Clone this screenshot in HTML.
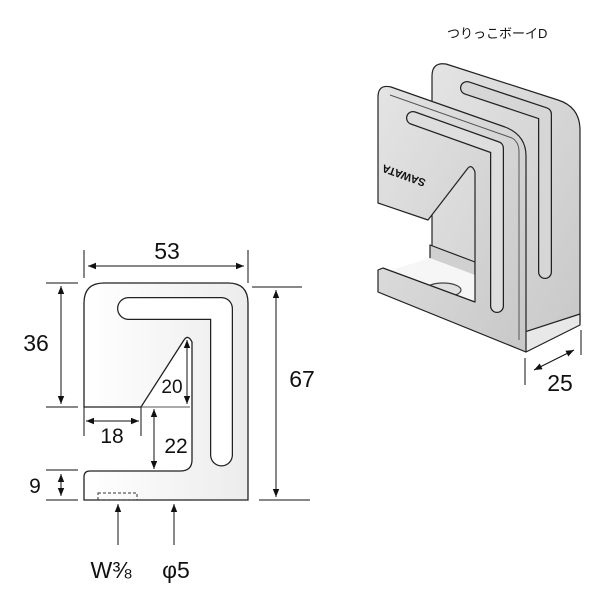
<!DOCTYPE html>
<html><head><meta charset="utf-8"><style>
body{margin:0;background:#fff}
svg{display:block}
text{font-family:"Liberation Sans","Noto Sans CJK JP",sans-serif;fill:#111}
</style></head><body>
<svg width="600" height="600" viewBox="0 0 600 600" xmlns="http://www.w3.org/2000/svg">
<defs>
<marker id="a" viewBox="0 0 10 10" refX="10" refY="5" markerWidth="8" markerHeight="8" orient="auto-start-reverse" markerUnits="userSpaceOnUse"><path d="M0,1 L10,5 L0,9 Z" fill="#111"/></marker>
<linearGradient id="g" x1="0" y1="0" x2="1" y2="0"><stop offset="0" stop-color="#ffffff"/><stop offset="1" stop-color="#ececec"/></linearGradient>
<linearGradient id="m" x1="0" y1="0" x2="1" y2="1"><stop offset="0" stop-color="#e4e4e4"/><stop offset="1" stop-color="#c8c8c8"/></linearGradient>
</defs>

<!-- 2D plate -->
<path d="M84,407 L141,407 L184,340 Q188,334 192,342 L192,460 Q192,471 180,471 L90,471 Q84,471 84,477 L84,500 L248,500 L248,303 Q248,283 228,283 L104,283 Q84,283 84,303 Z" fill="url(#g)" stroke="#222" stroke-width="1.3"/>
<path d="M128.5,308.5 L221.5,308.5 L221.5,455" fill="none" stroke="#222" stroke-width="23" stroke-linecap="round" stroke-linejoin="round"/>
<path d="M128.5,308.5 L221.5,308.5 L221.5,455" fill="none" stroke="#fff" stroke-width="20.5" stroke-linecap="round" stroke-linejoin="round"/>
<rect x="98" y="493" width="39" height="7" fill="none" stroke="#333" stroke-width="1" stroke-dasharray="3,2"/>

<g stroke="#111" stroke-width="1" fill="none">
<!-- 53 -->
<line x1="84" y1="250" x2="84" y2="278"/><line x1="248" y1="250" x2="248" y2="283"/>
<line x1="88" y1="266" x2="244" y2="266" marker-start="url(#a)" marker-end="url(#a)"/>
<!-- 36 -->
<line x1="46" y1="283" x2="78" y2="283"/><line x1="46" y1="407" x2="78" y2="407"/>
<line x1="61" y1="286" x2="61" y2="404" marker-start="url(#a)" marker-end="url(#a)"/>
<!-- 67 -->
<line x1="252" y1="287" x2="302" y2="287"/><line x1="259" y1="500" x2="310" y2="500"/>
<line x1="276" y1="290" x2="276" y2="497" marker-start="url(#a)" marker-end="url(#a)"/>
<!-- 20 -->
<line x1="187" y1="340" x2="187" y2="404" marker-start="url(#a)" marker-end="url(#a)"/>
<line x1="141" y1="407" x2="190" y2="407" stroke="#555"/>
<!-- 18 -->
<line x1="84" y1="407" x2="84" y2="436"/><line x1="141" y1="407" x2="141" y2="436"/>
<line x1="86" y1="421" x2="139" y2="421" marker-start="url(#a)" marker-end="url(#a)"/>
<!-- 22 -->
<line x1="154" y1="409" x2="154" y2="469" marker-start="url(#a)" marker-end="url(#a)"/>
<!-- 9 -->
<line x1="46" y1="470" x2="78" y2="470"/><line x1="46" y1="500" x2="78" y2="500"/>
<line x1="61" y1="474" x2="61" y2="496" marker-start="url(#a)" marker-end="url(#a)"/>
<!-- up arrows -->
<line x1="118" y1="545" x2="118" y2="504" marker-end="url(#a)"/>
<line x1="174" y1="545" x2="174" y2="504" marker-end="url(#a)"/>
</g>
<text x="167" y="259" font-size="23" text-anchor="middle">53</text>
<text x="36" y="351" font-size="23" text-anchor="middle">36</text>
<text x="302" y="387" font-size="23" text-anchor="middle">67</text>
<text x="172" y="393" font-size="19" text-anchor="middle">20</text>
<text x="112" y="443" font-size="21" text-anchor="middle">18</text>
<text x="176" y="453" font-size="21" text-anchor="middle">22</text>
<text x="35" y="493" font-size="21" text-anchor="middle">9</text>
<text x="111" y="578" font-size="23" text-anchor="middle">W⅜</text>
<text x="176" y="578" font-size="23" text-anchor="middle">φ5</text>

<!-- Title -->
<text x="447" y="38" font-size="13">つりっこボーイD</text>

<!-- 3D -->
<g stroke="#222" stroke-width="1.2" stroke-linejoin="round">
<path d="M432,76 Q432,62 446,64 L558,100 Q580,107 580,130 L580,322 L540,342 L432,300 Z" fill="url(#m)"/>
<path d="M467,88 L545,114 L545,272" fill="none" stroke="#222" stroke-width="14" stroke-linecap="round"/>
<path d="M467,88 L545,114 L545,272" fill="none" stroke="#d6d6d6" stroke-width="11.5" stroke-linecap="round"/>
<path d="M430,245 L430,262 L475,280 L475,262 Z" fill="#d0d0d0"/>
<path d="M385,272 L430,258 L475,275 L475,305 Z" fill="#f6f6f6" stroke="none"/>
<ellipse cx="443" cy="290" rx="18" ry="7" fill="#e0e0e0" stroke="#444"/>
<path d="M500,340 L526,352 L580,325 L580,314 Z" fill="#e8e8e8"/>
<path d="M378,97 Q378,84 391,87 L505,127 Q526,135 526,156 L526,352 L378,292 L378,270 L383,268 L475,302 L475,172 Q472,164 468,168 L428,220 L378,203 Z" fill="url(#m)"/>
<path d="M413,118 L497,148 L497,306" fill="none" stroke="#222" stroke-width="14" stroke-linecap="round"/>
<path d="M413,118 L497,148 L497,306" fill="none" stroke="#dedede" stroke-width="11.5" stroke-linecap="round"/>
<path d="M390,95 L512,138 Q519,142 519,152 L519,340" fill="none" stroke="#555" stroke-width="1"/>
</g>
<text transform="translate(405,172) rotate(200)" font-size="11" font-weight="bold" text-anchor="middle">SAWATA</text>
<g stroke="#111" stroke-width="1" fill="none">
<line x1="525" y1="358" x2="525" y2="385"/><line x1="581" y1="330" x2="581" y2="355"/>
<line x1="534" y1="370" x2="574" y2="350" marker-start="url(#a)" marker-end="url(#a)"/>
</g>
<text x="560" y="391" font-size="23" text-anchor="middle">25</text>
</svg>
</body></html>
